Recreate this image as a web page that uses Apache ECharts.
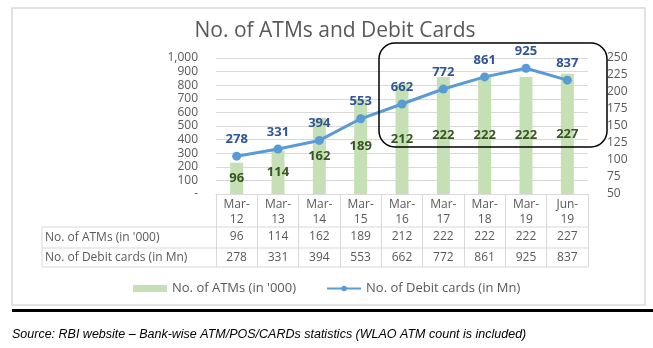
<!DOCTYPE html>
<html>
<head>
<meta charset="utf-8">
<script src="https://cdn.jsdelivr.net/npm/echarts@6/dist/echarts.min.js"></script>
<style>
  html, body { margin: 0; padding: 0; background: #fff; }
  #chart { width: 653px; height: 348px; }
</style>
</head>
<body>
<div id="chart"></div>
<script>
const categories = ['Mar-12', 'Mar-13', 'Mar-14', 'Mar-15', 'Mar-16', 'Mar-17', 'Mar-18', 'Mar-19', 'Jun-19'];
const atms = [96, 114, 162, 189, 212, 222, 222, 222, 227];
const debitCards = [278, 331, 394, 553, 662, 772, 861, 925, 837];
const seriesNames = ["No. of ATMs (in '000)", "No. of Debit cards (in Mn)"];
const titleText = 'No. of ATMs and Debit Cards';
const sourceText = 'Source: RBI website \u2013 Bank-wise ATM/POS/CARDs statistics (WLAO ATM count is included)';
const leftAxisRange = { min: 0, max: 1000, interval: 100 };
const rightAxisRange = { min: 50, max: 250, interval: 25 };

const FONT = '"Open Sans", "Noto Sans", sans-serif';
const GRAY = '#595959';
const LINE = '#d9d9d9';

const chart = echarts.init(document.getElementById('chart'));

const tableLeft = 42, tableRight = 588;
const rowLines = [227, 248, 267];

const graphics = [
  { type: 'rect', shape: { x: 12, y: 8, width: 633, height: 297 }, style: { fill: 'none', stroke: LINE, lineWidth: 1.5 }, silent: true, z: -1 },
  { type: 'rect', shape: { x: 12, y: 309, width: 641, height: 3 }, style: { fill: '#000' }, silent: true },
  { type: 'text', x: 12, y: 335, style: { text: sourceText, font: 'italic 12.5px "Liberation Sans", Arial, sans-serif', fill: '#000', verticalAlign: 'middle' }, silent: true },
  { type: 'rect', shape: { x: 379, y: 43, width: 228, height: 104, r: 16 }, style: { fill: 'none', stroke: '#000', lineWidth: 1.5 }, silent: true, z: 10 }
];
rowLines.forEach(y => graphics.push({ type: 'line', shape: { x1: tableLeft, y1: y, x2: tableRight, y2: y }, style: { stroke: LINE, lineWidth: 1 }, silent: true }));
graphics.push({ type: 'line', shape: { x1: tableLeft, y1: rowLines[0], x2: tableLeft, y2: rowLines[2] }, style: { stroke: LINE, lineWidth: 1 }, silent: true });
seriesNames.forEach((n, i) => graphics.push({
  type: 'text', x: tableLeft + 3, y: (rowLines[i] + rowLines[i + 1]) / 2,
  style: { text: n, font: '12px ' + FONT, fill: GRAY, verticalAlign: 'middle' }, silent: true
}));

const option = {
  backgroundColor: '#fff',
  animation: false,
  title: {
    text: titleText, left: 330, textAlign: 'center', top: 16,
    textStyle: { fontFamily: FONT, fontSize: 21, fontWeight: 'normal', color: GRAY }
  },
  legend: {
    left: 128, top: 277, itemWidth: 34, itemHeight: 7, itemGap: 30,
    textStyle: { fontFamily: FONT, fontSize: 13, color: GRAY },
    data: [
      { name: seriesNames[0], icon: 'rect', itemStyle: { color: '#c5e0b4' } },
      { name: seriesNames[1] }
    ]
  },
  grid: { left: 216, right: 65, top: 58, bottom: 154 },
  xAxis: [
    {
      type: 'category', data: categories, position: 'bottom',
      axisLine: { lineStyle: { color: LINE } },
      axisTick: { show: true, length: 73, lineStyle: { color: LINE } },
      axisLabel: { formatter: v => v.replace('-', '-\n'), lineHeight: 15, margin: 3, color: GRAY, fontFamily: FONT, fontSize: 12, interval: 0 }
    },
    {
      type: 'category', data: categories, position: 'bottom', offset: 33,
      axisLine: { show: false }, axisTick: { show: false },
      axisLabel: { formatter: (v, i) => String(atms[i]), margin: 4, color: GRAY, fontFamily: FONT, fontSize: 12, interval: 0 }
    },
    {
      type: 'category', data: categories, position: 'bottom', offset: 54,
      axisLine: { show: false }, axisTick: { show: false },
      axisLabel: { formatter: (v, i) => String(debitCards[i]), margin: 4, color: GRAY, fontFamily: FONT, fontSize: 12, interval: 0 }
    }
  ],
  yAxis: [
    {
      type: 'value', position: 'left', min: leftAxisRange.min, max: leftAxisRange.max, interval: leftAxisRange.interval,
      axisLine: { show: false }, axisTick: { show: false },
      splitLine: { lineStyle: { color: LINE } },
      axisLabel: { margin: 18, color: GRAY, fontFamily: FONT, fontSize: 12,
        formatter: v => v === 0 ? '-' : v.toLocaleString('en-US') }
    },
    {
      type: 'value', position: 'right', min: rightAxisRange.min, max: rightAxisRange.max, interval: rightAxisRange.interval,
      axisLine: { show: false }, axisTick: { show: false }, splitLine: { show: false },
      axisLabel: { margin: 19, color: GRAY, fontFamily: FONT, fontSize: 12 }
    }
  ],
  series: [
    {
      name: seriesNames[0], type: 'bar', xAxisIndex: 0, yAxisIndex: 1, data: atms,
      barWidth: 13, clip: true,
      itemStyle: { color: '#c5e0b4' },
      label: { show: true, position: 'inside', color: '#375623', fontWeight: 'bold', fontSize: 13, fontFamily: FONT }
    },
    {
      name: seriesNames[1], type: 'line', xAxisIndex: 0, yAxisIndex: 0, data: debitCards,
      symbol: 'circle', symbolSize: 9,
      lineStyle: { color: '#5b9bd5', width: 3 },
      itemStyle: { color: '#5b9bd5' },
      label: { show: true, position: 'top', distance: 6, color: '#2f5597', fontWeight: 'bold', fontSize: 13, fontFamily: FONT },
      z: 5
    }
  ],
  graphic: graphics
};

chart.setOption(option);
</script>
</body>
</html>
